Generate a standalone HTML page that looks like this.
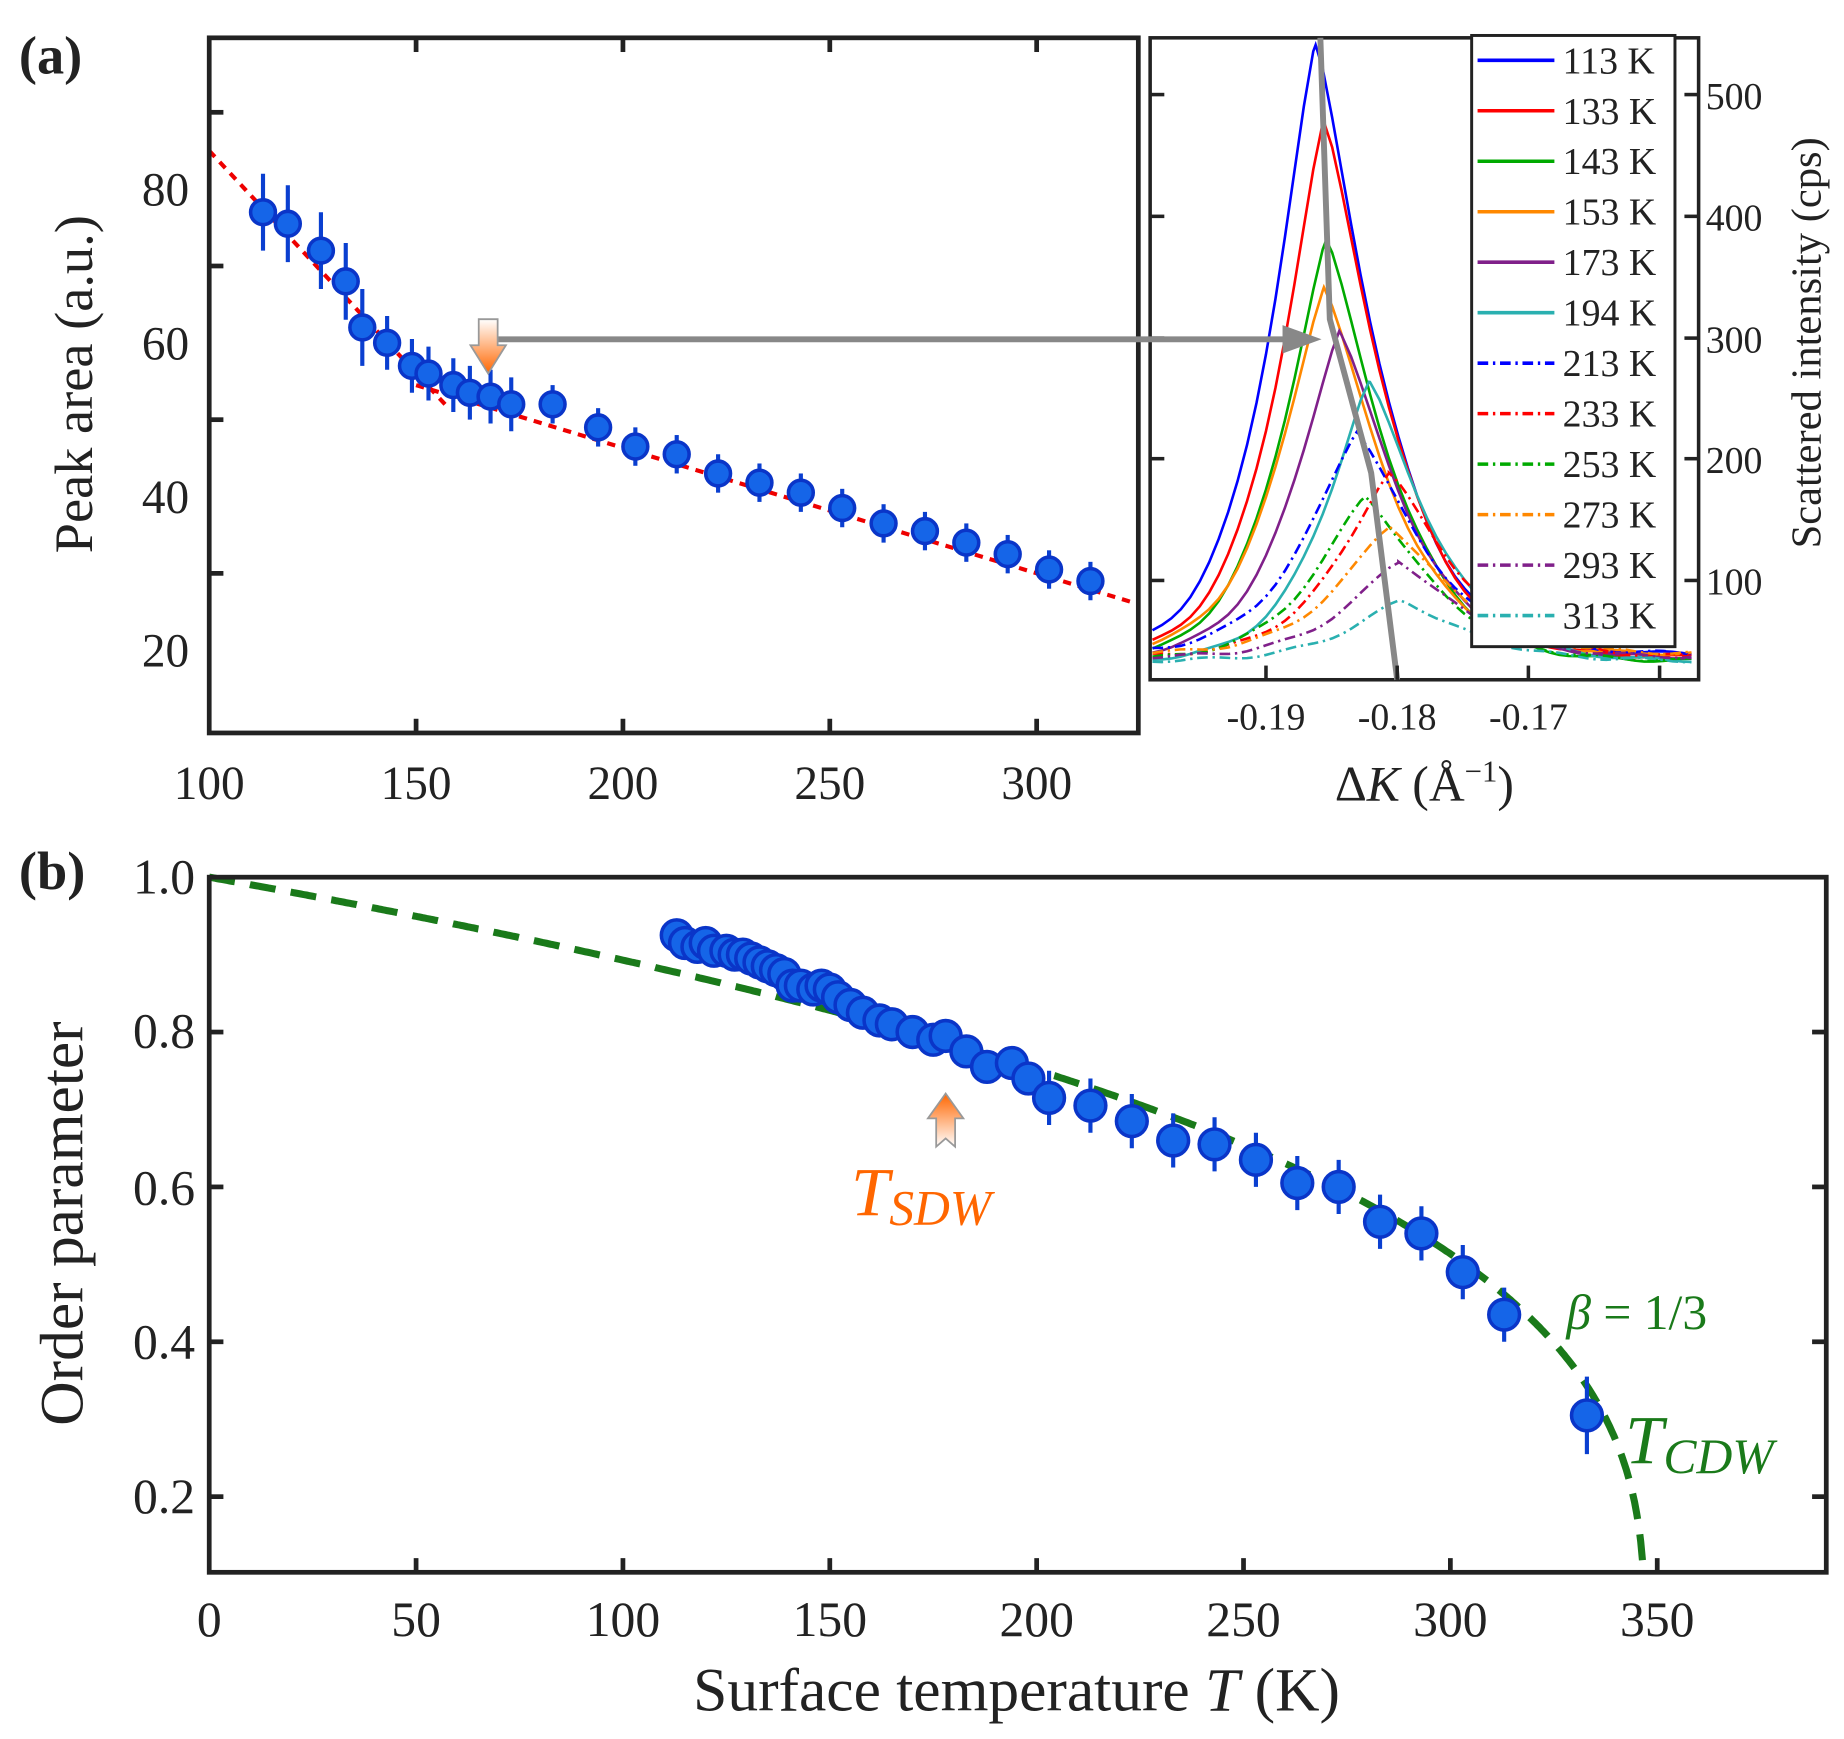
<!DOCTYPE html>
<html><head><meta charset="utf-8"><style>
html,body{margin:0;padding:0;background:#fff}
svg{display:block}
text{font-family:"Liberation Serif",serif;fill:#222}
</style></head><body>
<svg id="s" width="1844" height="1739" viewBox="0 0 1560 1471" preserveAspectRatio="none" xmlns="http://www.w3.org/2000/svg">
<defs>
<linearGradient id="og" x1="0" y1="0" x2="0" y2="1"><stop offset="0" stop-color="#fff"/><stop offset="1" stop-color="#f60"/></linearGradient>
<linearGradient id="og2" x1="0" y1="1" x2="0" y2="0"><stop offset="0" stop-color="#fff"/><stop offset="1" stop-color="#f60"/></linearGradient>
</defs>
<g id="g"></g>
<text x="16" y="62" font-size="46" font-weight="bold" fill="#111">(a)</text>
<text x="16" y="752" font-size="46" font-weight="bold" fill="#111">(b)</text>
<g font-size="40" text-anchor="end">
<text x="160" y="174">80</text><text x="160" y="304">60</text><text x="160" y="434">40</text><text x="160" y="564">20</text>
</g>
<g font-size="40" text-anchor="middle">
<text x="177" y="676">100</text><text x="352" y="676">150</text><text x="527" y="676">200</text><text x="702" y="676">250</text><text x="877" y="676">300</text>
</g>
<text transform="translate(78,325) rotate(-90)" font-size="46" text-anchor="middle">Peak area (a.u.)</text>
<g font-size="32" text-anchor="middle">
<text x="1071" y="617">-0.19</text><text x="1182" y="617">-0.18</text><text x="1293" y="617">-0.17</text>
</g>
<g font-size="32" text-anchor="start">
<text x="1443" y="92">500</text><text x="1443" y="195">400</text><text x="1443" y="298">300</text><text x="1443" y="400">200</text><text x="1443" y="503">100</text>
</g>
<text transform="translate(1540,290) rotate(-90)" font-size="36" text-anchor="middle">Scattered intensity (cps)</text>
<text x="1205" y="677" font-size="42" text-anchor="middle">Δ<tspan font-style="italic">K</tspan> (Å<tspan font-size="26" dy="-16">−1</tspan><tspan dy="16">)</tspan></text>
<g font-size="32" id="legtxt"></g>
<g font-size="42" text-anchor="end">
<text x="165" y="756">1.0</text><text x="165" y="886">0.8</text><text x="165" y="1019">0.6</text><text x="165" y="1149">0.4</text><text x="165" y="1280">0.2</text>
</g>
<g font-size="42" text-anchor="middle">
<text x="177" y="1384">0</text><text x="352" y="1384">50</text><text x="527" y="1384">100</text><text x="702" y="1384">150</text><text x="877" y="1384">200</text><text x="1052" y="1384">250</text><text x="1227" y="1384">300</text><text x="1402" y="1384">350</text>
</g>
<text transform="translate(70,1035) rotate(-90)" font-size="52" text-anchor="middle">Order parameter</text>
<text x="860" y="1447" font-size="52" text-anchor="middle">Surface temperature <tspan font-style="italic">T</tspan> (K)</text>
<text x="720" y="1028" font-size="58" font-style="italic" style="fill:#f60">T<tspan font-size="42" dy="8">SDW</tspan></text>
<text x="1325" y="1124" font-size="42" style="fill:#1a7a1a"><tspan font-style="italic">β</tspan> = 1/3</text>
<text x="1375" y="1238" font-size="58" font-style="italic" style="fill:#1a7a1a">T<tspan font-size="42" dy="8">CDW</tspan></text>
</svg>
<script>
var g=document.getElementById('g'),h='';
function L(x1,y1,x2,y2,c,w,extra){h+='<line x1="'+x1+'" y1="'+y1+'" x2="'+x2+'" y2="'+y2+'" stroke="'+c+'" stroke-width="'+w+'" '+(extra||'')+'/>';}
function P(pts,c,w,extra){h+='<polyline fill="none" points="'+pts.map(p=>p[0].toFixed(1)+','+p[1].toFixed(1)).join(' ')+'" stroke="'+c+'" stroke-width="'+w+'" '+(extra||'')+'/>';}
var ax=T=>177+(T-100)*3.5, ay=v=>160-(v-80)*6.5;
P([[ax(100),ay(85)],[ax(157),ay(52)]],'#e00',3.5,'stroke-dasharray="7,6"');
P([[ax(150),ay(54.5)],[963,ay(26)]],'#e00',3.5,'stroke-dasharray="7,6"');
var da=[[113,77],[119,75.5],[127,72],[133,68],[137,62],[143,60],[149,57],[153,56],[159,54.5],[163,53.5],[168,53],[173,52],[183,52],[194,49],[203,46.5],[213,45.5],[223,43],[233,41.8],[243,40.5],[253,38.5],[263,36.5],[273,35.5],[283,34],[293,32.5],[303,30.5],[313,29]];
da.forEach(d=>{var e=d[0]<140?5:(d[0]<180?3.5:2.5);L(ax(d[0]),ay(d[1]+e),ax(d[0]),ay(d[1]-e),'#0a3fd0',3.5);});
da.forEach(d=>{h+='<circle cx="'+ax(d[0])+'" cy="'+ay(d[1])+'" r="10.5" fill="#1565e8" stroke="#0a35c8" stroke-width="3"/>';});
h+='<rect x="177" y="32" width="786" height="588" fill="none" stroke="#222" stroke-width="4"/>';
[352,527,702,877].forEach(x=>{L(x,32,x,44,'#222',4);L(x,620,x,608,'#222',4);});
[90,70,50,30].forEach(v=>{L(177,ay(v),189,ay(v),'#222',4);});
h+='<rect x="973" y="32" width="464" height="543" fill="#fff" stroke="#222" stroke-width="3"/>';
var cols=['#00f','#f00','#0a0','#f80','#80208a','#2ab0b0','#00f','#f00','#0a0','#f80','#80208a','#2ab0b0'];
var peaks=[[1113,38],[1120,103],[1122,203],[1120,243],[1133,280],[1158,323],[1148,365],[1175,400],[1155,420],[1175,445],[1183,475],[1185,508]];
var labs=['113','133','143','153','173','194','213','233','253','273','293','313'];
peaks.forEach((p,i)=>{var base=553+(i%3)*3, A=base-p[1], sl=i<6?55:62, sr=i<6?68:72; var pts=[];
 for(var x=975;x<=1437;x+=8){var dx=x-p[0],s=dx<0?sl:sr,f=Math.exp(-Math.pow(Math.abs(dx)/s,1.3));pts.push([x,base-A*f+Math.sin(x*0.7+i)*1.5]);}
 pts.push([p[0],p[1]]);pts.sort((a,b)=>a[0]-b[0]);
 P(pts,cols[i],2.2,i>=6?'stroke-dasharray="9,4,2,4"':'');});
P([[1117,32],[1125,270],[1160,400],[1182,575]],'#888',5);
[1071,1182,1293,1404].forEach(x=>{L(x,575,x,563,'#222',3);});
[80,183,286,388,491].forEach(y=>{L(973,y,985,y,'#222',3);L(1437,y,1425,y,'#222',3);});
h+='<rect x="1245" y="30" width="172" height="517" fill="#fff" stroke="#222" stroke-width="2.5"/>';
var lt='';
labs.forEach((l,i)=>{var y=51+i*42.7;L(1250,y,1315,y,cols[i],3,i>=6?'stroke-dasharray="9,4,2,4"':'');lt+='<text x="1322" y="'+(y+11)+'">'+l+' K</text>';});
document.getElementById('legtxt').innerHTML=lt;
L(413,287,1090,287,'#888',5);
h+='<polygon points="1085,275 1118,287 1085,299" fill="#888"/>';
h+='<polygon points="405,270 421,270 421,292 428,292 413,316 398,292 405,292" fill="url(#og)" stroke="#999" stroke-width="1.5"/>';
var bx=T=>177+T*3.5, by=v=>742+(1-v)*655;
var Tc=347, pts=[];
for(var T=0;T<Tc;T+=0.5){var v=Math.pow(1-T/Tc,1/3);if(v<0.1)break;pts.push([bx(T),by(v)]);}
P(pts,'#1a7a1a',6,'stroke-dasharray="22,13"');
var db=[[113,.925],[115,.915],[118,.91],[120,.915],[122,.905],[125,.905],[127,.9],[129,.9],[131,.895],[133,.89],[135,.885],[137,.88],[139,.875],[141,.86],[143,.86],[146,.855],[148,.86],[150,.855],[152,.845],[155,.835],[158,.825],[162,.815],[165,.81],[170,.8],[175,.79],[178,.795],[183,.775],[188,.755],[194,.76],[198,.74],[203,.715],[213,.705],[223,.685],[233,.66],[243,.655],[253,.635],[263,.605],[273,.6],[283,.555],[293,.54],[303,.49],[313,.435],[333,.305]];
db.forEach(d=>{var e=d[0]<200?0.02:(d[0]>320?0.05:0.035);L(bx(d[0]),by(d[1]+e),bx(d[0]),by(d[1]-e),'#0a3fd0',3.5);});
db.forEach(d=>{h+='<circle cx="'+bx(d[0])+'" cy="'+by(d[1])+'" r="13" fill="#1565e8" stroke="#0a35c8" stroke-width="3"/>';});
h+='<rect x="177" y="742" width="1368" height="588" fill="none" stroke="#222" stroke-width="4"/>';
[352,527,702,877,1052,1227,1402].forEach(x=>{L(x,1330,x,1318,'#222',4);});
[0.8,0.6,0.4,0.2].forEach(v=>{L(177,by(v),189,by(v),'#222',4);L(1545,by(v),1533,by(v),'#222',4);});
h+='<polygon points="800,925 815,946 808,946 808,970 800,963 792,970 792,946 785,946" fill="url(#og2)" stroke="#999" stroke-width="1.5"/>';
g.innerHTML=h;
</script>
</body></html>
